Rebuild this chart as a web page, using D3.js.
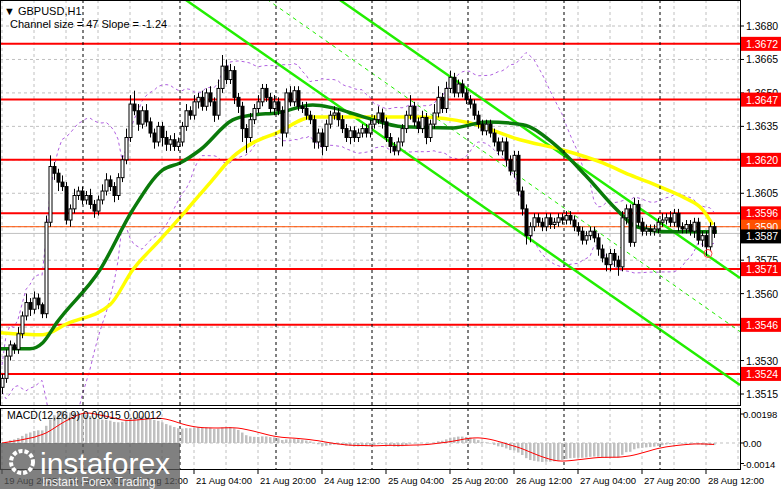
<!DOCTYPE html>
<html><head><meta charset="utf-8">
<script src="https://cdn.jsdelivr.net/npm/d3@7"></script>
<style>
body{margin:0;background:#fff;}
text{font-family:"Liberation Sans",Arial,sans-serif;}
</style></head>
<body><svg id="c" width="781" height="489"></svg>
<script>
// hourly closes, bar 0 = 19 Aug 2025 early
const closes = [1.3522,1.3532,1.3537,1.3535,1.3542,1.3550,1.3556,1.3553,1.3558,1.3555,
1.3551,1.3592,1.3617,1.3614,1.3610,1.3608,1.3593,1.3598,1.3604,1.3606,
1.3602,1.3604,1.3600,1.3597,1.3602,1.3606,1.3611,1.3608,1.3604,1.3612,
1.3620,1.3630,1.3645,1.3642,1.3636,1.3642,1.3637,1.3632,1.3628,1.3635,
1.3630,1.3627,1.3629,1.3626,1.3628,1.3635,1.3642,1.3640,1.3646,1.3648,
1.3644,1.3650,1.3646,1.3640,1.3652,1.3662,1.3656,1.3660,1.3648,1.3644,
1.3634,1.3630,1.3638,1.3643,1.3646,1.3652,1.3648,1.3643,1.3646,1.3642,
1.3632,1.3650,1.3646,1.3651,1.3644,1.3643,1.3640,1.3638,1.3628,1.3632,
1.3626,1.3636,1.3640,1.3641,1.3638,1.3634,1.3630,1.3633,1.3630,1.3632,
1.3634,1.3632,1.3636,1.3638,1.3641,1.3637,1.3630,1.3626,1.3624,1.3628,
1.3634,1.3640,1.3644,1.3637,1.3634,1.3639,1.3630,1.3636,1.3641,1.3648,
1.3643,1.3652,1.3657,1.3650,1.3654,1.3650,1.3647,1.3645,1.3640,1.3636,
1.3633,1.3636,1.3632,1.3628,1.3624,1.3628,1.3620,1.3615,1.3622,1.3606,
1.3598,1.3586,1.3590,1.3594,1.3592,1.3590,1.3594,1.3591,1.3592,1.3594,
1.3593,1.3595,1.3593,1.3590,1.3588,1.3584,1.3586,1.3588,1.3585,1.3580,
1.3576,1.3573,1.3578,1.3575,1.3572,1.3594,1.3598,1.3583,1.3600,1.3592,
1.3588,1.3589,1.3588,1.3589,1.3592,1.3593,1.3594,1.3592,1.3596,1.3590,
1.3589,1.3591,1.3588,1.3592,1.3584,1.3586,1.3581,1.3590,1.3587];
const firstOpen = 1.3518;
// wick lengths in pips above / below the body
const wickUp = [2,3,2,1,3,2,4,2,3,2, 1,3,5,2,2,3,2,2,3,2, 2,2,3,2,2,3,3,2,2,2, 2,4,4,6,3,2,3,2,2,2, 2,3,2,3,2,2,3,2,3,2, 3,2,3,2,4,5,3,3,2,2,
2,2,3,2,3,2,2,2,3,2, 2,2,3,2,2,2,3,2,2,2, 2,2,2,3,2,2,2,2,2,2, 2,2,2,2,3,2,2,2,2,2, 2,2,5,2,2,3,2,2,4,5, 2,3,3,2,2,2,2,2,2,2,
2,2,2,2,2,2,2,2,2,2, 2,2,2,2,2,2,2,2,2,2, 2,2,2,2,2,2,2,2,2,2, 2,2,2,2,2,3,2,2,3,2, 2,2,2,2,2,3,2,3,2,2, 2,2,2,2,2,2,2,2,2];
const wickDn = [3,2,2,2,2,2,2,3,2,2, 2,2,2,3,4,2,2,3,2,2, 2,2,2,3,2,2,2,2,3,2, 2,2,2,2,3,2,2,2,3,2, 4,3,3,2,2,2,2,2,2,3, 2,2,2,3,2,2,2,2,3,3,
6,7,2,2,2,2,2,2,3,2, 6,2,2,2,2,2,2,2,3,3, 4,2,2,2,3,2,2,3,2,2, 2,2,2,2,2,3,2,3,2,2, 2,2,2,2,2,2,3,2,2,2, 2,2,2,2,2,2,2,2,2,2,
2,2,2,2,2,2,3,2,3,2, 3,4,3,2,2,2,2,2,2,2, 2,2,2,2,2,2,2,2,2,3, 2,3,3,3,4,2,3,2,2,2, 2,2,2,2,2,2,2,2,2,2, 2,2,2,3,2,3,4,2,2];
// moving averages: [bar, price]
const maSlow = [[-0.5,1.35425],[10.2,1.35416],[16.2,1.35465],[27,1.3555],[32.7,1.35707],[39.5,1.35841],[46.2,1.35976],[52,1.36097],[57.7,1.36213],[62.7,1.36276],[68.7,1.36321],[77.7,1.36392],[91.2,1.36392],[104.5,1.36392],[117,1.36365],[129.5,1.3629],[140.2,1.36244],[150.2,1.36186],[157,1.36132],[164.5,1.36079],[170.7,1.36029],[175.2,1.35976],[177.7,1.35908]];
const maFast = [[-0.5,1.35353],[7,1.35353],[10.2,1.3538],[13.7,1.3547],[24.5,1.35707],[32.7,1.35976],[40.2,1.36155],[44.5,1.36186],[49.5,1.36244],[57.7,1.36379],[62.7,1.36401],[68.7,1.3641],[77.7,1.36446],[82.7,1.36433],[91.2,1.36388],[100.2,1.36348],[112.7,1.36343],[121.2,1.3637],[130.2,1.36357],[137.7,1.36276],[146.2,1.36124],[153.7,1.35976],[158.7,1.359],[167,1.35877],[178.7,1.35877]];
// channel lines: [bar, price] pairs
const channel = [
  {pts:[[45.7,1.3692],[184.5,1.3519]], dash:false},
  {pts:[[84.2,1.3692],[184.5,1.3567]], dash:false},
  {pts:[[66.2,1.3692],[184.5,1.3543]], dash:true}
];
const levels = [1.3672,1.3647,1.3620,1.3596,1.3571,1.3546,1.3524];
const priceTicks = [1.3680,1.3665,1.3650,1.3635,1.3620,1.3605,1.3590,1.3575,1.3560,1.3545,1.3530,1.3515];
const timeLabels = ["19 Aug 2025","19 Aug 20:00","20 Aug 12:00","21 Aug 04:00","21 Aug 20:00","24 Aug 12:00","25 Aug 04:00","25 Aug 20:00","26 Aug 12:00","27 Aug 04:00","27 Aug 20:00","28 Aug 12:00"];
const dayBreaks = [20.25,44.5,68.5,92.5,116.5,140.5,164.5];
const bid = 1.3587, ask = 1.3590;
const macdTicks = [[0.00198,"0.00198"],[0,"0.00"],[-0.0014,"-0.0014"]];

const svg = d3.select('#c');
const W = 740, TOP = 0, BOT = 405, MTOP = 408, MBOT = 469;
const x = d3.scaleLinear().domain([-0.5, 184.5]).range([0, W]);
const y = d3.scaleLinear().domain([1.3680, 1.3515]).range([26, 394]);
const ym = d3.scaleLinear().domain([0.00198, -0.0014]).range([414, 463.5]);

const main = svg.append('g');
main.append('clipPath').attr('id','cp').append('rect').attr('x',0).attr('y',TOP).attr('width',W).attr('height',BOT-TOP);
const g = main.append('g').attr('clip-path','url(#cp)');

/**
 * Grid
 */
d3.range(0, 24).forEach(function(k) {
  g.append('line').attr('x1', x(k*8)).attr('x2', x(k*8)).attr('y1', TOP).attr('y2', BOT)
    .attr('stroke','#c0c0c0').attr('stroke-dasharray','3,3');
});
priceTicks.forEach(function(p) {
  g.append('line').attr('x1',0).attr('x2',W).attr('y1',y(p)).attr('y2',y(p))
    .attr('stroke','#c0c0c0').attr('stroke-dasharray','3,3');
});
dayBreaks.forEach(function(b) {
  [[TOP,BOT],[MTOP,MBOT]].forEach(function(r) {
    svg.append('line').attr('x1',x(b)).attr('x2',x(b)).attr('y1',r[0]).attr('y2',r[1])
      .attr('stroke','#000').attr('stroke-dasharray','3,3');
  });
});
d3.range(0, 24).forEach(function(k) {
  svg.append('line').attr('x1', x(k*8)).attr('x2', x(k*8)).attr('y1', MTOP).attr('y2', MBOT)
    .attr('stroke','#c0c0c0').attr('stroke-dasharray','3,3');
});

/**
 * Bollinger bands (20, 2) from closes
 */
const bu = [], bl = [];
closes.forEach(function(c, i) {
  const w = closes.slice(Math.max(0, i-19), i+1);
  const m = d3.mean(w), s = d3.deviation(w) || 0.0003;
  bu.push([i, m + 2*s]); bl.push([i, m - 2*s]);
});
const line = d3.line().x(d => x(d[0])).y(d => y(d[1]));
[bu, bl].forEach(function(b) {
  g.append('path').attr('d', line(b)).attr('fill','none')
    .attr('stroke','#b060e0').attr('stroke-dasharray','3,3').attr('stroke-width',1);
});

/**
 * Levels
 */
levels.forEach(function(p) {
  g.append('line').attr('x1',0).attr('x2',W).attr('y1',y(p)).attr('y2',y(p))
    .attr('stroke','#ff0000').attr('stroke-width',2);
});
g.append('line').attr('x1',0).attr('x2',W).attr('y1',y(ask)).attr('y2',y(ask)).attr('stroke','#ff5000');
g.append('line').attr('x1',0).attr('x2',W).attr('y1',y(bid)).attr('y2',y(bid)).attr('stroke','#c0c0c0');

/**
 * Channel
 */
channel.forEach(function(c) {
  g.append('path').attr('d', line(c.pts)).attr('fill','none')
    .attr('stroke','#22ee00').attr('stroke-width', c.dash ? 1 : 2.5)
    .attr('stroke-dasharray', c.dash ? '4,4' : null);
});

/**
 * Moving averages
 */
const curve = d3.line().x(d => x(d[0])).y(d => y(d[1])).curve(d3.curveMonotoneX);
g.append('path').attr('d', curve(maSlow)).attr('fill','none').attr('stroke','#ffff00').attr('stroke-width',3.5);
g.append('path').attr('d', curve(maFast)).attr('fill','none').attr('stroke','#0a7a0a').attr('stroke-width',3.5);

/**
 * Candles
 */
closes.forEach(function(c, i) {
  const o = i === 0 ? firstOpen : closes[i-1];
  const hi = Math.max(o, c) + wickUp[i] / 10000, lo = Math.min(o, c) - wickDn[i] / 10000;
  const cx = Math.round(x(i)) + 0.5;
  g.append('line').attr('x1',cx).attr('x2',cx).attr('y1',y(hi)).attr('y2',y(lo)).attr('stroke','#000');
  const top = y(Math.max(o, c)), h = Math.max(1, y(Math.min(o, c)) - top);
  g.append('rect').attr('x', cx-1.5).attr('y', top).attr('width', 3).attr('height', h)
    .attr('fill', c >= o ? '#fff' : '#000').attr('stroke','#000').attr('stroke-width',1);
});
g.append('circle').attr('cx', x(176.5)).attr('cy', y(1.3578)).attr('r',4)
  .attr('fill','none').attr('stroke','#ff4040');

/**
 * MACD from closes
 */
function ema(arr, n) {
  const k = 2/(n+1); let e = arr[0];
  return arr.map(function(v) { e = v*k + e*(1-k); return e; });
}
const e12 = ema(closes, 12), e26 = ema(closes, 26);
const macd = closes.map((c, i) => e12[i] - e26[i]);
const sig = macd.map(function(v, i) { return d3.mean(macd.slice(Math.max(0, i-8), i+1)); });
svg.append('line').attr('x1',0).attr('x2',W).attr('y1',ym(0)).attr('y2',ym(0)).attr('stroke','#c0c0c0').attr('stroke-dasharray','3,3');
macd.forEach(function(v, i) {
  svg.append('rect').attr('x', x(i)-1).attr('width', 2.5)
    .attr('y', Math.min(ym(v), ym(0))).attr('height', Math.abs(ym(v)-ym(0)))
    .attr('fill','#c0c0c0');
});
svg.append('path').attr('d', d3.line().x((d,i) => x(i)).y(d => ym(d))(sig))
  .attr('fill','none').attr('stroke','#ff0000').attr('stroke-width',1);

/**
 * Frames and axis
 */
svg.append('rect').attr('x',0.5).attr('y',0.5).attr('width',W).attr('height',BOT).attr('fill','none').attr('stroke','#000');
svg.append('rect').attr('x',0.5).attr('y',MTOP+0.5).attr('width',W).attr('height',MBOT-MTOP).attr('fill','none').attr('stroke','#000');

const axis = svg.append('g');
priceTicks.forEach(function(p) {
  axis.append('line').attr('x1',W).attr('x2',W+4).attr('y1',y(p)).attr('y2',y(p)).attr('stroke','#000');
  axis.append('text').attr('x',W+6).attr('y',y(p)+4).attr('font-size',10.5).text(p.toFixed(4));
});
function tag(p, fill, txtColor) {
  axis.append('rect').attr('x',W+1).attr('y',y(p)-7).attr('width',40).attr('height',14).attr('fill',fill);
  axis.append('text').attr('x',W+6).attr('y',y(p)+4).attr('font-size',10.5).attr('fill',txtColor).text(p.toFixed(4));
}
levels.forEach(p => tag(p, '#ff0000', '#fff'));
tag(ask, '#ff5000', '#fff');
axis.append('rect').attr('x',W+1).attr('y',y(bid)-4).attr('width',40).attr('height',14).attr('fill','#000');
axis.append('text').attr('x',W+6).attr('y',y(bid)+7).attr('font-size',10.5).attr('fill','#fff').text(bid.toFixed(4));

macdTicks.forEach(function(t) {
  axis.append('line').attr('x1',W).attr('x2',W+4).attr('y1',ym(t[0])).attr('y2',ym(t[0])).attr('stroke','#000');
  axis.append('text').attr('x',W+3).attr('y',ym(t[0])+4).attr('font-size',9.5).text(t[1]);
});

timeLabels.forEach(function(t, k) {
  const tx = x(k*16);
  svg.append('line').attr('x1',tx).attr('x2',tx).attr('y1',MBOT).attr('y2',MBOT+5).attr('stroke','#000');
  svg.append('text').attr('x',tx+2).attr('y',484).attr('font-size',9.5).text(t);
});

svg.append('text').attr('x',4).attr('y',15).attr('font-size',11).text('\u25BC GBPUSD,H1');
svg.append('text').attr('x',10).attr('y',28).attr('font-size',11).text('Channel size = 47 Slope = -1.24');
svg.append('text').attr('x',7).attr('y',419).attr('font-size',10.5).text('MACD(12,26,9) 0.00015 0.00012');

/**
 * Watermark
 */
const wm = svg.append('g');
wm.append('rect').attr('x',0).attr('y',443).attr('width',180).attr('height',46).attr('fill','#555').attr('opacity',0.75);
wm.append('circle').attr('cx',22).attr('cy',462).attr('r',11).attr('fill','none').attr('stroke','#fff').attr('stroke-width',4).attr('stroke-dasharray','4,2');
wm.append('text').attr('x',40).attr('y',474).attr('font-size',30).attr('fill','#fff').attr('font-family','Lato').text('instaforex');
wm.append('text').attr('x',42).attr('y',486).attr('font-size',12).attr('fill','#fff').attr('opacity',0.9).text('Instant Forex Trading');
</script></body></html>
